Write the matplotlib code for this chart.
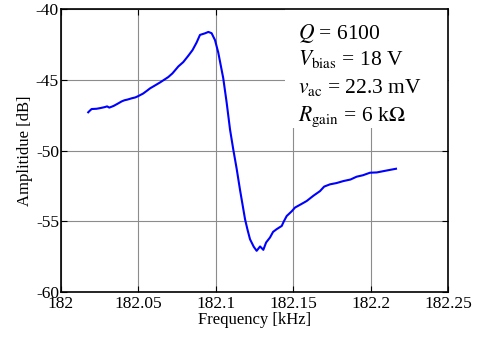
import numpy as np
import matplotlib
matplotlib.use('Agg')
import matplotlib.pyplot as plt
from matplotlib.patches import Rectangle

# values
freq_khz = [182.0176, 182.0185, 182.0198, 182.0230, 182.0255, 182.0284, 182.0298, 182.0312,
            182.0340, 182.0365, 182.0392, 182.0410, 182.0430, 182.0457, 182.0480, 182.0500,
            182.0530, 182.0555, 182.0575, 182.0600, 182.0640, 182.0693, 182.0720, 182.0758,
            182.0790, 182.0822, 182.0850, 182.0876, 182.0898, 182.0930, 182.0952, 182.0973,
            182.0995, 182.1016, 182.1048, 182.1070, 182.1092, 182.1113, 182.1135, 182.1156,
            182.1189, 182.1205, 182.1221, 182.1245, 182.1264, 182.1286, 182.1307, 182.1325,
            182.1350, 182.1370, 182.1393, 182.1426, 182.1440, 182.1458, 182.1490, 182.1512,
            182.1550, 182.1587, 182.1630, 182.1673, 182.1700, 182.1738, 182.1780, 182.1824,
            182.1870, 182.1910, 182.1950, 182.1996, 182.2040, 182.2082, 182.2120, 182.2164]
amp_db = [-47.30, -47.20, -47.07, -47.05, -47.00, -46.93, -46.88, -46.97,
          -46.85, -46.70, -46.53, -46.45, -46.40, -46.31, -46.25, -46.15,
          -45.98, -45.78, -45.61, -45.45, -45.19, -44.81, -44.55, -44.06,
          -43.75, -43.31, -42.90, -42.37, -41.83, -41.72, -41.62, -41.71,
          -42.20, -43.08, -44.88, -46.60, -48.52, -49.93, -51.30, -52.75,
          -54.86, -55.60, -56.27, -56.80, -57.09, -56.78, -57.02, -56.50,
          -56.15, -55.75, -55.56, -55.33, -55.00, -54.63, -54.30, -54.03,
          -53.80, -53.57, -53.20, -52.87, -52.55, -52.39, -52.30, -52.16,
          -52.05, -51.85, -51.75, -51.57, -51.55, -51.46, -51.38, -51.29]

x_ticks = [182, 182.05, 182.1, 182.15, 182.2, 182.25]
x_tick_labels = ['182', '182.05', '182.1', '182.15', '182.2', '182.25']
y_ticks = [-60, -55, -50, -45, -40]

params = [r'$Q$ = 6100',
          r'$V_{\rm bias}$ = 18 V',
          r'$v_{\rm ac}$ = 22.3 mV',
          r'$R_{\rm gain}$ = 6 k$\Omega$']

plt.rcParams['font.family'] = ['Liberation Serif', 'DejaVu Serif']
plt.rcParams['mathtext.fontset'] = 'stix'
plt.rcParams['axes.unicode_minus'] = False

fig = plt.figure(figsize=(4.79, 3.37), dpi=100)
ax = fig.add_axes([0.1273, 0.1335, 0.808, 0.8398])

ax.plot(freq_khz, amp_db, color='#0000ff', lw=1.5, zorder=3)

ax.set_xlim(182, 182.25)
ax.set_ylim(-60, -40)
ax.set_xticks(x_ticks)
ax.set_xticklabels(x_tick_labels)
ax.set_yticks(y_ticks)
ax.tick_params(direction='in', top=True, right=True, labelsize=12.5, pad=1.5,
               length=4, width=0.8)
ax.tick_params(axis='x', pad=3)
ax.set_axisbelow(True)
ax.grid(True, color='#8c8c8c', lw=0.8)
for s in ax.spines.values():
    s.set_linewidth(1.2)

# white box behind the parameter text hides the grid
ax.add_patch(Rectangle((0.579, 0.58), 0.421, 0.42, transform=ax.transAxes,
                       facecolor='white', edgecolor='none', zorder=1))

for txt, yb in zip(params, [0.894, 0.802, 0.703, 0.604]):
    ax.text(0.612, yb, txt, transform=ax.transAxes, fontsize=15.5,
            va='baseline', ha='left', zorder=4)

ax.set_xlabel('Frequency [kHz]', fontsize=12, labelpad=0)
ax.set_ylabel('Amplitidue [dB]', fontsize=12, labelpad=2)

fig.savefig('out.png', dpi=100)
